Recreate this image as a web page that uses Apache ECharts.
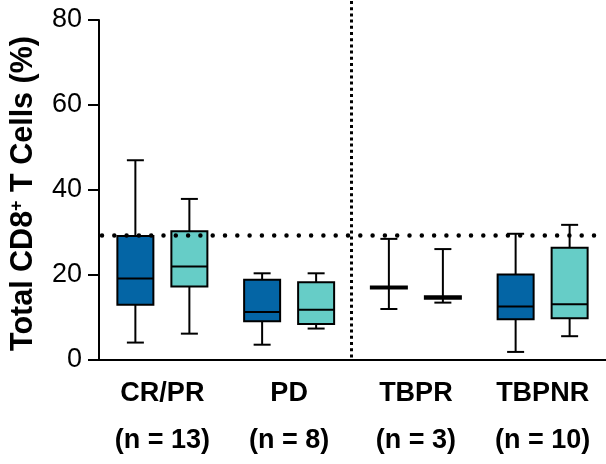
<!DOCTYPE html>
<html>

<head>
  <meta charset="UTF-8">
  <title>Total CD8+ T Cells</title>
  <style>
    body {
      margin: 0;
      background: #fff;
    }

    #chart {
      width: 606px;
      height: 464px;
    }
  </style>
  <script type="text/javascript" src="https://cdn.jsdelivr.net/npm/echarts@6/dist/echarts.min.js"></script>
</head>

<body>
  <div id="chart"></div>
  <script type="text/javascript">
    // groups on the x axis
    var categories = ['CR/PR', 'PD', 'TBPR', 'TBPNR'];
    var groupSizes = ['(n = 13)', '(n = 8)', '(n = 3)', '(n = 10)'];

    // [min, q1, median, q3, max] per group
    var darkBoxes = [
      [4.1, 13.0, 19.2, 29.2, 47.0],
      [3.6, 9.1, 11.3, 18.9, 20.4],
      [12.0, 16.8, 17.0, 17.3, 28.5],
      [1.9, 9.6, 12.6, 20.1, 29.7]
    ];
    var tealBoxes = [
      [6.2, 17.3, 22.0, 30.3, 37.9],
      [7.4, 8.5, 11.8, 18.3, 20.4],
      [13.5, 14.4, 14.7, 15.0, 26.1],
      [5.6, 9.8, 13.1, 26.4, 31.8]
    ];

    var thresholdLine = 29.3;
    var yTicks = [0, 20, 40, 60, 80];

    var fontFamily = '"Liberation Sans", Arial, Helvetica, sans-serif';
    var darkColor = '#0465a5';
    var tealColor = '#66cdc7';

    var myChart = echarts.init(document.getElementById('chart'));

    function toSeriesData(boxes) {
      return boxes.map(function (b, i) {
        return [i].concat(b);
      });
    }

    // draws one box with whiskers, shifted sideways from the category center
    function boxRenderer(shift, color) {
      return function (params, api) {
        var x = api.coord([api.value(0), 0])[0] + shift;
        var low = api.coord([api.value(0), api.value(1)])[1];
        var q1 = api.coord([api.value(0), api.value(2)])[1];
        var med = api.coord([api.value(0), api.value(3)])[1];
        var q3 = api.coord([api.value(0), api.value(4)])[1];
        var high = api.coord([api.value(0), api.value(5)])[1];
        var half = 18, cap = 8.5;
        var line = { stroke: '#000', lineWidth: 2 };
        return {
          type: 'group',
          children: [
            { type: 'line', shape: { x1: x, y1: high, x2: x, y2: q3 }, style: line },
            { type: 'line', shape: { x1: x, y1: q1, x2: x, y2: low }, style: line },
            { type: 'line', shape: { x1: x - cap, y1: high, x2: x + cap, y2: high }, style: line },
            { type: 'line', shape: { x1: x - cap, y1: low, x2: x + cap, y2: low }, style: line },
            {
              type: 'rect',
              shape: { x: x - half, y: q3, width: half * 2, height: q1 - q3 },
              style: { fill: color, stroke: '#000', lineWidth: 2 }
            },
            { type: 'line', shape: { x1: x - half, y1: med, x2: x + half, y2: med }, style: line }
          ]
        };
      };
    }

    // dotted threshold line and the dotted separator between PD and TBPR
    function guideRenderer(params, api) {
      var cs = params.coordSys;
      var y = api.coord([0, thresholdLine])[1];
      var sepX = (api.coord([1, 0])[0] + api.coord([2, 0])[0]) / 2 - 1;
      return {
        type: 'group',
        children: [
          {
            type: 'line',
            shape: { x1: cs.x + 3, y1: y, x2: cs.x + cs.width, y2: y },
            style: { stroke: '#000', lineWidth: 4.5, lineCap: 'round', lineDash: [0, 12.3] }
          },
          {
            type: 'line',
            shape: { x1: sepX, y1: 1, x2: sepX, y2: cs.y + cs.height },
            style: { stroke: '#000', lineWidth: 3, lineDash: [3, 3.2] }
          }
        ]
      };
    }

    var option = {
      animation: false,
      grid: {
        left: 97,
        top: 20,
        width: 512,
        height: 342
      },
      xAxis: {
        type: 'category',
        data: categories,
        axisLine: { lineStyle: { color: '#000', width: 2 } },
        axisTick: { alignWithLabel: true, length: 10, lineStyle: { color: '#000', width: 2 } },
        axisLabel: {
          margin: 10,
          color: '#000',
          fontFamily: fontFamily,
          fontSize: 27,
          fontWeight: 'bold',
          lineHeight: 47,
          formatter: function (value, index) {
            return value + '\n' + groupSizes[index];
          }
        }
      },
      yAxis: {
        type: 'value',
        min: yTicks[0],
        max: yTicks[yTicks.length - 1],
        interval: 20,
        name: 'Total CD8{sup|+} T Cells (%)',
        nameLocation: 'middle',
        nameGap: 60,
        nameTextStyle: {
          color: '#000',
          fontFamily: fontFamily,
          fontSize: 30.5,
          fontWeight: 'bold',
          padding: [0, 7, 0, 0],
          rich: {
            sup: {
              fontFamily: fontFamily,
              fontSize: 18,
              fontWeight: 'bold',
              verticalAlign: 'top',
              color: '#000'
            }
          }
        },
        splitLine: { show: false },
        axisLine: { show: true, lineStyle: { color: '#000', width: 2 } },
        axisTick: { show: true, length: 11, lineStyle: { color: '#000', width: 2 } },
        axisLabel: {
          margin: 17,
          color: '#000',
          fontFamily: fontFamily,
          fontSize: 27
        }
      },
      series: [
        {
          type: 'custom',
          name: 'dark',
          renderItem: boxRenderer(-27, darkColor),
          data: toSeriesData(darkBoxes),
          z: 2
        },
        {
          type: 'custom',
          name: 'teal',
          renderItem: boxRenderer(27, tealColor),
          data: toSeriesData(tealBoxes),
          z: 2
        },
        {
          type: 'custom',
          name: 'guides',
          renderItem: guideRenderer,
          data: [[0, thresholdLine]],
          z: 3
        }
      ]
    };
    myChart.setOption(option);
  </script>
</body>

</html>
